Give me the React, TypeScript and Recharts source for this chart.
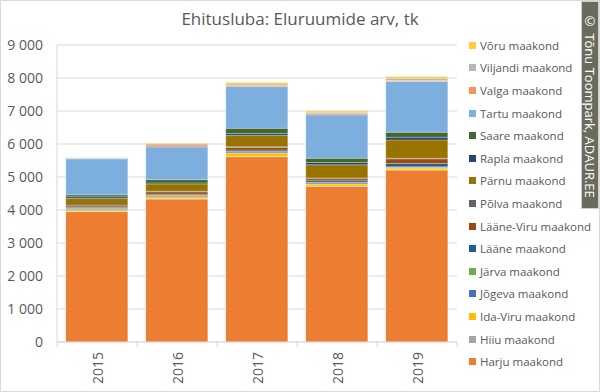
import React from "react";
import { BarChart, Bar, XAxis, YAxis, CartesianGrid } from "recharts";

const years = ["2015", "2016", "2017", "2018", "2019"];

// stack order, bottom to top
const counties = [
  "Harju maakond", "Hiiu maakond", "Ida-Viru maakond", "Jõgeva maakond", "Järva maakond",
  "Lääne maakond", "Lääne-Viru maakond", "Põlva maakond", "Pärnu maakond", "Rapla maakond",
  "Saare maakond", "Tartu maakond", "Valga maakond", "Viljandi maakond", "Võru maakond",
];
const colors = [
  "#ED7D31", "#A5A5A5", "#FFC000", "#4472C4", "#70AD47",
  "#255E91", "#9E480E", "#636363", "#997300", "#264478",
  "#43682B", "#7CAFDD", "#F1975A", "#B7B7B7", "#FFCD33",
];

const harju = [3950, 4330, 5615, 4720, 5210];
const hiiu = [10, 10, 10, 10, 10];
const idaViru = [50, 60, 100, 60, 50];
const jogeva = [20, 30, 30, 30, 20];
const jarva = [20, 20, 20, 20, 20];
const laane = [30, 30, 40, 50, 100];
const laaneViru = [40, 70, 80, 60, 140];
const polva = [30, 20, 20, 20, 20];
const parnu = [200, 220, 340, 400, 555];
const rapla = [50, 30, 60, 70, 80];
const saare = [60, 100, 160, 130, 150];
const tartu = [1090, 990, 1265, 1310, 1540];
const valga = [10, 60, 40, 40, 30];
const viljandi = [20, 40, 40, 40, 70];
const voru = [10, 20, 40, 40, 50];

const series = [harju, hiiu, idaViru, jogeva, jarva, laane, laaneViru, polva, parnu, rapla, saare, tartu, valga, viljandi, voru];

const yTicks = [0, 1000, 2000, 3000, 4000, 5000, 6000, 7000, 8000, 9000];

const data = years.map((year, i) => {
  const row: any = { year };
  counties.forEach((c, k) => (row[c] = series[k][i]));
  return row;
});

const font = "'Open Sans', sans-serif";
const fmt = (v: number) => (v >= 1000 ? `${Math.floor(v / 1000)} ${String(v % 1000).padStart(3, "0")}` : String(v));

const YearTick = ({ x, y, payload, index }: any) => {
  const half = 40;
  return (
    <g>
      <line x1={x - half} y1={y} x2={x - half} y2={y + 5} stroke="#D9D9D9" />
      {index === years.length - 1 && <line x1={x + half} y1={y} x2={x + half} y2={y + 5} stroke="#D9D9D9" />}
      <text transform={`translate(${x + 6},${y + 10}) rotate(-90)`} textAnchor="end" fontSize={14} fill="#595959" fontFamily={font}>
        {payload.value}
      </text>
    </g>
  );
};

export default function App() {
  return (
    <div style={{ position: "fixed", left: 0, top: 0, width: 600, height: 392, boxSizing: "border-box", border: "1px solid #D9D9D9", background: "#fff" }}>
      <div style={{ position: "absolute", left: -1, top: -1 }}>
        <BarChart width={600} height={392} data={data} margin={{ top: 45, right: 143, left: 0, bottom: 0 }} barCategoryGap="11%">
          <text x={300} y={25} textAnchor="middle" fontSize={17} fill="#595959" fontFamily={font}>
            Ehitusluba: Eluruumide arv, tk
          </text>
          <CartesianGrid vertical={false} stroke="#D9D9D9" />
          <XAxis dataKey="year" height={50} tickLine={false} tickSize={0} tickMargin={0} stroke="#D9D9D9" tick={<YearTick />} interval={0} />
          <YAxis width={57} domain={[0, 9000]} ticks={yTicks} tickFormatter={fmt} tickLine={false} tickSize={0} tickMargin={14}
            axisLine={{ stroke: "#D9D9D9" }} tick={{ fontSize: 14, fill: "#595959", fontFamily: font }} interval={0} />
          {counties.map((c, k) => (
            <Bar key={c} dataKey={c} stackId="a" fill={colors[k]} stroke="#fff" strokeOpacity={0.35} strokeWidth={0.75} isAnimationActive={false} />
          ))}
        </BarChart>
      </div>
      <div style={{ position: "absolute", left: 468, top: 33, fontFamily: font, fontSize: 11.5, color: "#595959" }}>
        {counties.map((c, k) => ({ c, k })).reverse().map(({ c, k }) => (
          <div key={c} style={{ height: 22.6, display: "flex", alignItems: "center", whiteSpace: "nowrap" }}>
            <span style={{ width: 7, height: 7, background: colors[k], marginRight: 4, display: "inline-block" }} />
            {c}
          </div>
        ))}
      </div>
      <div style={{ position: "absolute", left: 580, top: 0, width: 16, height: 206, background: "#6b6b5d", border: "1px solid #d0d0d0",
        color: "#fff", fontFamily: font, fontSize: 13, writingMode: "vertical-rl", display: "flex", alignItems: "center", justifyContent: "center", whiteSpace: "nowrap", lineHeight: "16px" }}>
        © Tõnu Toompark, ADAUR.EE
      </div>
    </div>
  );
}
